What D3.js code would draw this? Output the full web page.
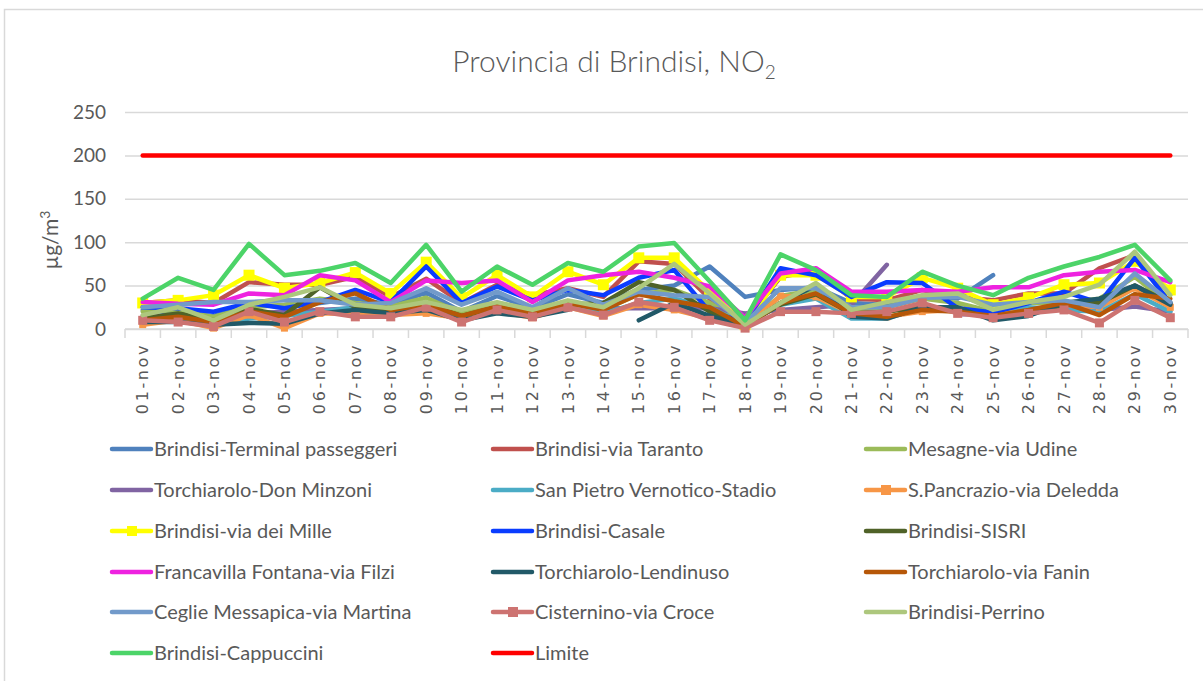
<!DOCTYPE html>
<html>
<head>
<meta charset="utf-8">
<script src="https://cdn.jsdelivr.net/npm/d3@7"></script>
<style>
  body { margin: 0; background: #fff; }
  text { font-family: Lato, "Open Sans", sans-serif; fill: #595959; }
</style>
</head>
<body>
<div id="chart"></div>
<script>
// giorni di novembre
const days = ["01-nov","02-nov","03-nov","04-nov","05-nov","06-nov","07-nov","08-nov","09-nov","10-nov",
  "11-nov","12-nov","13-nov","14-nov","15-nov","16-nov","17-nov","18-nov","19-nov","20-nov",
  "21-nov","22-nov","23-nov","24-nov","25-nov","26-nov","27-nov","28-nov","29-nov","30-nov"];

const yTicks = [0, 50, 100, 150, 200, 250];

const terminalPasseggeri = [22,18,15,28,26,30,35,28,42,20,38,24,40,30,45,50,72,37,45,48,30,28,38,35,62,null,null,null,null,null];
const viaTaranto = [30,33,30,54,51,51,60,37,58,30,51,39,47,37,78,75,35,8,60,68,35,33,45,37,33,41,41,70,85,40];
const mesagne = [20,22,14,25,28,35,30,26,36,18,30,20,32,22,40,45,30,6,38,45,22,25,35,30,20,30,30,35,60,28];
const donMinzoni = [15,14,8,18,20,22,24,20,24,14,22,18,25,24,24,24,24,18,22,25,28,74,null,17,17,20,24,22,26,20];
const sanPietro = [12,15,5,12,15,20,25,22,22,12,20,15,25,18,30,35,25,5,28,35,12,12,25,22,15,25,22,20,40,20];
const sPancrazio = [5,10,1,16,1,18,18,16,18,12,20,13,25,15,28,22,12,2,38,37,18,14,20,22,18,20,28,25,47,25];
const viaDeiMille = [30,33,39,62,47,53,65,41,77,36,62,37,66,51,82,82,43,5,62,62,37,37,59,47,28,36,51,53,78,45];
const casale = [25,24,20,30,24,31,45,31,72,30,49,33,45,39,59,68,20,8,70,62,37,54,53,24,19,30,43,30,82,30];
const sisri = [12,18,10,23,16,48,25,22,28,15,25,18,28,30,54,45,20,5,28,40,18,20,25,22,12,18,28,30,50,30];
const francavilla = [31,29,28,41,39,62,56,31,56,53,56,31,56,62,66,59,49,13,64,70,43,43,45,43,48,48,62,66,68,54];
const lendinuso = [8,8,5,7,6,18,22,18,22,10,18,14,22,null,10,30,15,3,30,50,14,12,25,25,10,15,30,35,50,28];
const fanin = [10,14,8,20,14,31,41,22,28,15,26,18,30,22,40,32,25,3,30,41,18,14,22,20,15,22,30,16,40,35];
const ceglie = [25,28,31,31,33,33,28,30,47,28,43,25,47,28,43,39,37,7,47,47,25,25,36,37,28,31,33,25,64,31];
const cisternino = [10,8,3,20,8,20,14,14,25,8,22,14,25,16,31,25,10,1,20,20,18,20,30,18,13,18,22,7,33,13];
const perrino = [16,25,10,28,37,48,28,24,31,22,31,22,33,25,47,75,41,5,30,53,22,31,39,41,22,31,37,51,89,39];
const cappuccini = [35,59,45,98,62,67,76,53,97,43,72,51,76,66,95,99,55,10,86,68,39,37,66,50,39,59,72,83,97,56];
const limite = [200,200,200,200,200,200,200,200,200,200,200,200,200,200,200,200,200,200,200,200,
  200,200,200,200,200,200,200,200,200,200];

const seriesNames = ["Brindisi-Terminal passeggeri","Brindisi-via Taranto","Mesagne-via Udine",
  "Torchiarolo-Don Minzoni","San Pietro Vernotico-Stadio","S.Pancrazio-via Deledda",
  "Brindisi-via dei Mille","Brindisi-Casale","Brindisi-SISRI",
  "Francavilla Fontana-via Filzi","Torchiarolo-Lendinuso","Torchiarolo-via Fanin",
  "Ceglie Messapica-via Martina","Cisternino-via Croce","Brindisi-Perrino",
  "Brindisi-Cappuccini","Limite"];
const seriesValues = [terminalPasseggeri, viaTaranto, mesagne, donMinzoni, sanPietro, sPancrazio,
  viaDeiMille, casale, sisri, francavilla, lendinuso, fanin, ceglie, cisternino, perrino, cappuccini, limite];
const colors = ["#4f81bd","#c0504d","#9bbb59","#8064a2","#4bacc6","#f79646",
  "#ffff00","#0a3cff","#4f6228","#ee22e0","#215968","#b65708",
  "#729aca","#cd7371","#adc77d","#4cd468","#ff0000"];
// dimensione marker quadrati (0 = nessun marker)
const markers = [0,0,0,0,0,7,11,0,0,0,0,0,0,9,0,0,0];

const svgWidth = 1203, svgHeight = 681;
const margin = { top: 112, left: 125, right: 15, bottom: 352 };
const width = svgWidth - margin.left - margin.right;
const height = svgHeight - margin.top - margin.bottom;

const svg = d3.select('#chart').append('svg')
  .attr('width', svgWidth)
  .attr('height', svgHeight);

// bordo del grafico
svg.append('rect')
  .attr('x', 4.5).attr('y', 9.5)
  .attr('width', 1210).attr('height', 700)
  .attr('fill', 'none').attr('stroke', '#d9d9d9').attr('stroke-width', 1.5);

// titolo
const title = svg.append('text')
  .attr('x', 614).attr('y', 72)
  .attr('text-anchor', 'middle')
  .style('font-size', '30px').style('font-weight', 300);
title.append('tspan').text('Provincia di Brindisi, NO');
title.append('tspan').attr('dy', 7).style('font-size', '19px').text('2');

const g = svg.append('g').attr('transform', `translate(${margin.left},${margin.top})`);

const x = d3.scaleBand().domain(days).range([0, width]).padding(0);
const y = d3.scaleLinear().domain([0, 250]).range([height, 0]);
const cx = d => x(d) + x.bandwidth() / 2;

// griglia
g.append('g')
  .call(d3.axisLeft(y).tickValues(yTicks).tickSize(-width).tickFormat(''))
  .call(a => a.select('.domain').remove())
  .call(a => a.selectAll('line').attr('stroke', '#d9d9d9').attr('stroke-width', 1.5));

// etichette asse y
g.append('g')
  .call(d3.axisLeft(y).tickValues(yTicks).tickSize(0).tickPadding(19))
  .call(a => a.select('.domain').remove())
  .call(a => a.selectAll('text').style('font-size', '19px').attr('fill', '#595959')
    .style('font-family', 'Lato, sans-serif'));

// titolo asse y
const yt = svg.append('text')
  .attr('transform', 'translate(58,240) rotate(-90)')
  .attr('text-anchor', 'middle')
  .style('font-size', '21px');
yt.append('tspan').text('µg/m');
yt.append('tspan').attr('dy', -8).style('font-size', '14px').text('3');

// asse x: linea, tacche, etichette
g.append('line')
  .attr('x1', 0).attr('x2', width).attr('y1', height).attr('y2', height)
  .attr('stroke', '#d9d9d9').attr('stroke-width', 1.5);
g.selectAll('.xtick')
  .data(days.concat(['end']))
  .enter().append('line')
  .attr('class', 'xtick')
  .attr('x1', d => d === 'end' ? width : x(d))
  .attr('x2', d => d === 'end' ? width : x(d))
  .attr('y1', height).attr('y2', height + 9)
  .attr('stroke', '#d9d9d9').attr('stroke-width', 1.5);

g.append('g')
  .attr('transform', `translate(0,${height})`)
  .call(d3.axisBottom(x).tickSize(0).tickPadding(0))
  .call(a => a.select('.domain').remove())
  .call(a => a.selectAll('text')
    .attr('transform', 'rotate(-90)')
    .attr('text-anchor', 'end')
    .attr('x', -14).attr('y', 0).attr('dy', '0.35em')
    .attr('fill', '#595959')
    .style('font-size', '16px')
    .style('letter-spacing', '2.6px')
    .style('font-family', '"DejaVu Sans", sans-serif'));

// serie
const line = d3.line()
  .defined(d => d.v !== null)
  .x(d => cx(d.day))
  .y(d => y(d.v));

seriesValues.forEach((vals, i) => {
  const pts = vals.map((v, j) => ({ day: days[j], v: v }));
  g.append('path')
    .datum(pts)
    .attr('fill', 'none')
    .attr('stroke', colors[i])
    .attr('stroke-width', 4.5)
    .attr('stroke-linejoin', 'round')
    .attr('stroke-linecap', 'round')
    .attr('d', line);
  if (markers[i]) {
    const s = markers[i];
    g.selectAll(null)
      .data(pts.filter(d => d.v !== null))
      .enter().append('rect')
      .attr('x', d => cx(d.day) - s / 2)
      .attr('y', d => y(d.v) - s / 2)
      .attr('width', s).attr('height', s)
      .attr('fill', colors[i]);
  }
});

// legenda
const colX = [112, 493, 866];
const rowY = [449, 490, 531, 572, 612, 653];
const leg = svg.append('g');
seriesNames.forEach((name, i) => {
  const lx = colX[i % 3], ly = rowY[Math.floor(i / 3)];
  const item = leg.append('g').attr('transform', `translate(${lx},${ly})`);
  item.append('line')
    .attr('x1', 0).attr('x2', 39).attr('y1', 0).attr('y2', 0)
    .attr('stroke', colors[i]).attr('stroke-width', 4.5)
    .attr('stroke-linecap', 'round');
  if (markers[i]) {
    item.append('rect')
      .attr('x', 20 - 5).attr('y', -5).attr('width', 10).attr('height', 10)
      .attr('fill', colors[i]);
  }
  item.append('text')
    .attr('x', 42).attr('y', 0).attr('dy', '0.35em')
    .style('font-size', '20px')
    .text(name);
});
</script>
</body>
</html>
